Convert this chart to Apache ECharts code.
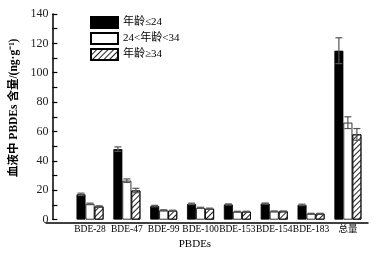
<!DOCTYPE html>
<html><head><meta charset="utf-8">
<script src="https://cdn.jsdelivr.net/npm/echarts@6/dist/echarts.min.js"></script>
<style>html,body{margin:0;padding:0;background:#fff}#c{width:383px;height:255px}</style>
</head><body><div id="c"></div>
<script>
const categories = ['BDE-28','BDE-47','BDE-99','BDE-100','BDE-153','BDE-154','BDE-183','总量'];
const seriesNames = ['年龄≤24','24<年龄<34','年龄≥34'];
const young = [17.2, 48.0, 9.2, 10.7, 10.3, 10.9, 10.0, 115.0];
const middle = [10.7, 26.5, 6.3, 8.0, 5.4, 5.6, 4.0, 66.0];
const old = [8.9, 19.8, 6.0, 7.4, 5.4, 5.6, 4.0, 58.0];
const youngErr = [0.8, 1.5, 0.5, 0.5, 0.4, 0.4, 0.5, 8.8];
const middleErr = [0.5, 1.2, 0.4, 0.4, 0.3, 0.3, 0.3, 4.0];
const oldErr = [0.5, 1.5, 0.4, 0.4, 0.3, 0.3, 0.3, 4.0];
const yTicks = [0, 20, 40, 60, 80, 100, 120, 140];

const FONT = '"Liberation Serif", "Noto Sans CJK SC", serif';
const BW = 9;
const chart = echarts.init(document.getElementById('c'), null, {renderer: 'canvas'});

function errSeries(vals, errs, idx) {
  return {
    type: 'custom', xAxisIndex: 0, yAxisIndex: 0, z: 5, silent: true,
    data: vals.map((v, i) => [i, v, errs[i]]),
    renderItem: function (params, api) {
      const i = api.value(0), v = api.value(1), e = api.value(2);
      const off = (idx - 1) * BW;
      const top = api.coord([i, v + e]);
      const bot = api.coord([i, v - e]);
      const x = top[0] + off;
      const c = 3.5;
      const col = '#555';
      return {type: 'group', children: [
        {type: 'line', shape: {x1: x, y1: top[1], x2: x, y2: bot[1]}, style: {stroke: col, lineWidth: 1.2}},
        {type: 'line', shape: {x1: x - c, y1: top[1], x2: x + c, y2: top[1]}, style: {stroke: col, lineWidth: 1.2}},
        {type: 'line', shape: {x1: x - c, y1: bot[1], x2: x + c, y2: bot[1]}, style: {stroke: col, lineWidth: 1.2}}
      ]};
    }
  };
}

const hatch = {color: '#222', symbol: 'rect', dashArrayX: [1, 0], dashArrayY: [1, 3], rotation: -Math.PI / 4, symbolSize: 1};

chart.setOption({
  animation: false,
  backgroundColor: '#fff',
  grid: [
    {left: 65.2, right: 16.7, top: 14, bottom: 32},
    {left: 46, right: 15, top: 14, bottom: 32}
  ],
  legend: {
    orient: 'vertical', left: 90, top: 16, padding: 0, icon: 'rect',
    itemWidth: 27, itemHeight: 11, itemGap: 3,
    textStyle: {fontFamily: FONT, fontSize: 11, color: '#000'},
    data: seriesNames
  },
  xAxis: [
    {type: 'category', gridIndex: 0, data: categories,
     axisLine: {show: false}, axisTick: {show: false},
     axisLabel: {interval: 0, margin: 5, fontFamily: FONT, fontSize: 9.5, color: '#000'},
     name: 'PBDEs', nameLocation: 'middle', nameGap: 18,
     nameTextStyle: {fontFamily: FONT, fontSize: 11, color: '#000', padding: [0, 0, 0, -48]}},
    {type: 'value', gridIndex: 1, min: 0, max: 1,
     axisLine: {show: true, lineStyle: {color: '#000', width: 1.5}},
     axisTick: {show: false}, axisLabel: {show: false}, splitLine: {show: false}}
  ],
  yAxis: [
    {type: 'value', gridIndex: 0, min: 0, max: 140, interval: 10, offset: 19.2,
     axisLine: {show: true, lineStyle: {color: '#000', width: 1.5}},
     axisTick: {show: true, inside: true, length: 5, lineStyle: {color: '#000', width: 1.2}},
     splitLine: {show: false},
     axisLabel: {margin: 4, fontFamily: FONT, fontSize: 12, color: '#222',
       formatter: v => (yTicks.indexOf(v) >= 0 ? String(v) : '')},
     name: '血液中 PBDEs 含量/(ng·g⁻¹)', nameLocation: 'middle', nameGap: 24, nameRotate: 90,
     nameTextStyle: {fontFamily: FONT, fontSize: 11.5, fontWeight: 'bold', color: '#000', padding: [0, 0, 0, 18]}},
    {type: 'value', gridIndex: 1, show: false, min: 0, max: 1}
  ],
  series: [
    {name: seriesNames[0], type: 'bar', data: young, barWidth: BW, barGap: '0%',
     itemStyle: {color: '#000', borderColor: '#000', borderWidth: 0.8}},
    {name: seriesNames[1], type: 'bar', data: middle, barWidth: BW, barGap: '0%',
     itemStyle: {color: '#fff', borderColor: '#000', borderWidth: 0.8}},
    {name: seriesNames[2], type: 'bar', data: old, barWidth: BW, barGap: '0%',
     itemStyle: {color: '#fff', borderColor: '#000', borderWidth: 0.8, decal: hatch}},
    errSeries(young, youngErr, 0),
    errSeries(middle, middleErr, 1),
    errSeries(old, oldErr, 2)
  ]
});
</script></body></html>
